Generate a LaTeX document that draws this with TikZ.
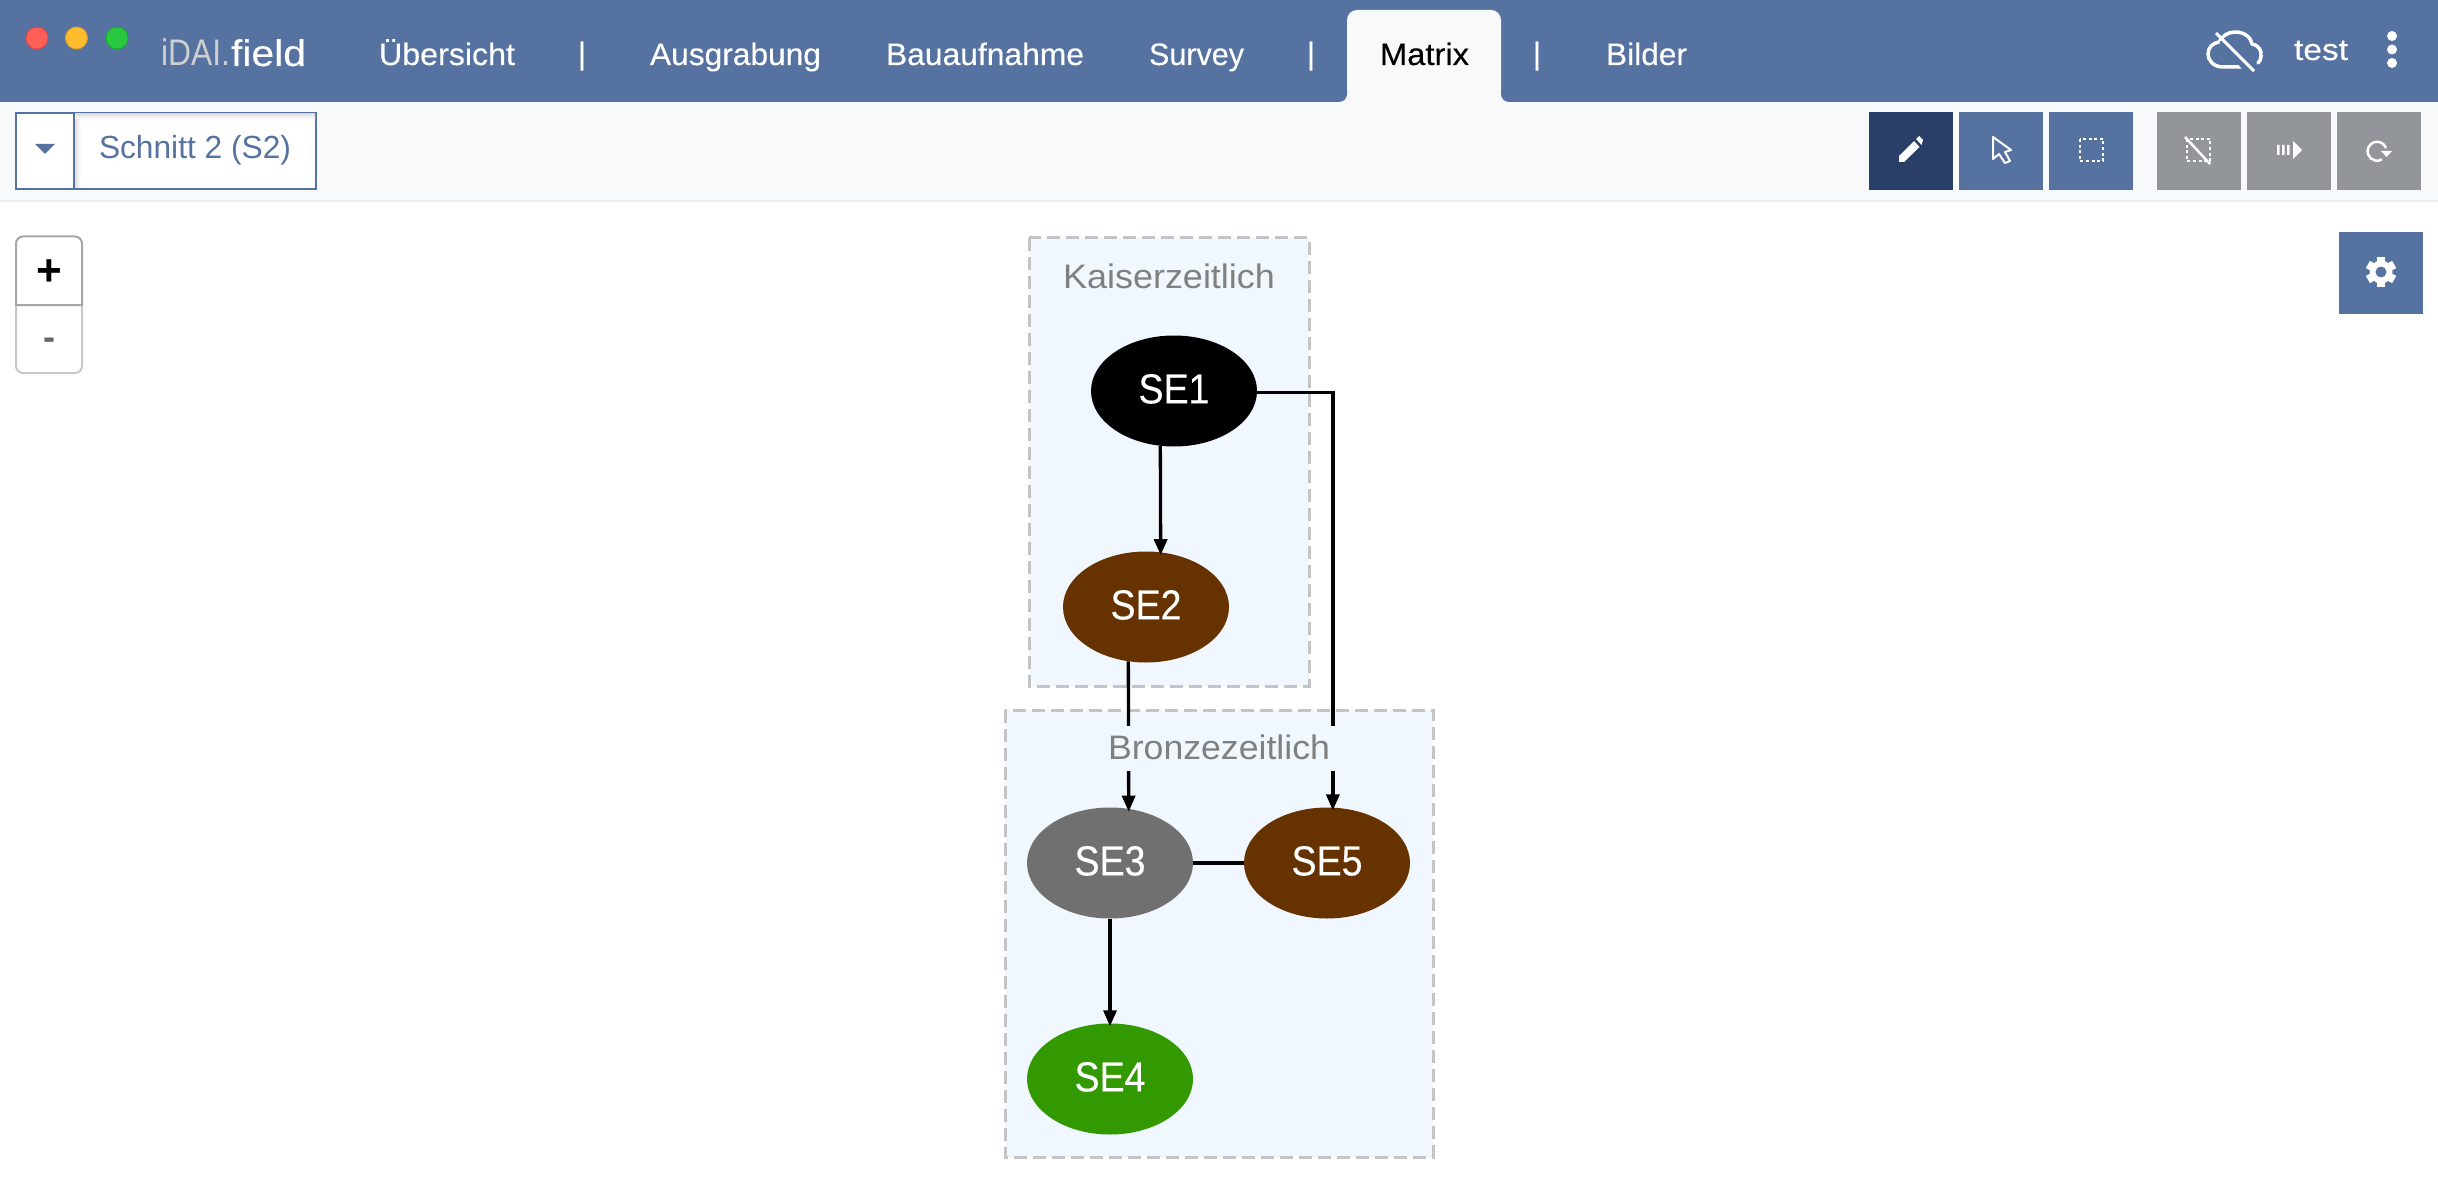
\documentclass[tikz,border=0pt]{standalone}
\usepackage{graphicx}
\usepackage{fontspec}
\setmainfont{Liberation Sans}
\newfontfamily\medfont[FakeBold=0.25]{Liberation Sans}
\usetikzlibrary{shapes.geometric,arrows.meta}
\definecolor{hdr}{HTML}{5572A1}
\definecolor{dark}{HTML}{293F67}
\definecolor{btngray}{HTML}{92969A}
\definecolor{barbg}{HTML}{F8F9FB}
\definecolor{barline}{HTML}{E9ECEF}
\definecolor{period}{HTML}{F0F7FE}
\definecolor{dashc}{HTML}{C2C4C6}
\definecolor{lab}{HTML}{808080}
\definecolor{brownse}{HTML}{663300}
\definecolor{grayse}{HTML}{707070}
\definecolor{greense}{HTML}{339900}
\definecolor{lightr}{HTML}{FF5F57}
\definecolor{lighty}{HTML}{FFBD2E}
\definecolor{lightg}{HTML}{28C940}
\definecolor{lightrd}{HTML}{E0443E}
\definecolor{lightyd}{HTML}{DEA123}
\definecolor{lightgd}{HTML}{1AAB29}
\definecolor{logogray}{HTML}{CFCFCF}
\definecolor{zoomtop}{HTML}{A6A6A6}
\definecolor{zoomlow}{HTML}{C8C8C8}
\newcommand{\fitw}[3]{\fontsize{#1}{#1}\selectfont\resizebox{#2pt}{\height}{#3}}
\newcommand{\medw}[3]{\fontsize{#1}{#1}\selectfont\medfont\resizebox{#2pt}{\height}{#3}}
\tikzset{
  x=1pt,y=-1pt,
  txt/.style={anchor=base west,inner sep=0pt,outer sep=0pt},
  unitnode/.style={ellipse,minimum width=166pt,minimum height=111pt,inner sep=0pt,text=white},
  periodbox/.style={fill=period,draw=dashc,line width=3pt,dash pattern=on 13pt off 6pt},
  edge/.style={line width=3.3pt,black},
  arrowedge/.style={edge,-{Triangle[length=16pt,width=13pt]},shorten >=-3pt},
  tool/.style={fill=hdr},
  toolgray/.style={fill=btngray},
  periodlabel/.style={anchor=base,inner xsep=7pt,inner ysep=0pt,text=lab,fill=period,text height=33pt,text depth=12pt},
  icon/.style={white,line width=2.5pt},
}
\begin{document}
\begin{tikzpicture}
\useasboundingbox (0,0) rectangle (2438,1198);
\fill[white] (0,0) rectangle (2438,1198);
% header and toolbar
\fill[hdr] (0,0) rectangle (2438,102);
\fill[barbg] (0,102) rectangle (2438,200);
\fill[barline] (0,200) rectangle (2438,202);
% traffic lights
\fill[lightr,draw=lightrd,line width=.8pt] (37,38) circle (11) ;
\fill[lighty,draw=lightyd,line width=.8pt] (76.5,38) circle (11);
\fill[lightg,draw=lightgd,line width=.8pt] (117,38) circle (11);
% nav texts
\node[txt,text=logogray] (logoa) at (161,66) {\fitw{37}{69}{iDAI.}};
\node[txt,text=white] (logob) at (231,66) {\medw{37}{75}{field}};
\node[txt,text=white] (nav1) at (379,65) {\medw{31}{136}{Übersicht}};
\node[txt,text=white] (sep1) at (578,64) {\fontsize{31}{31}\selectfont\medfont |};
\node[txt,text=white] (nav2) at (650,65) {\medw{31}{171}{Ausgrabung}};
\node[txt,text=white] (nav3) at (886,65) {\medw{31}{198}{Bauaufnahme}};
\node[txt,text=white] (nav4) at (1149,65) {\medw{31}{95}{Survey}};
\node[txt,text=white] (sep2) at (1307,64) {\fontsize{31}{31}\selectfont\medfont |};
% active tab with its flared foot
\fill[barbg,rounded corners=10pt] (1347,102) |- (1501,10) -- (1501,102) -- cycle;
\fill[barbg] (1347,80) rectangle (1501,102);
\fill[barbg] (1337,92) rectangle (1511,102);
\fill[hdr] (1330,90) -- (1347,90) -- (1347,94) arc[start angle=0,end angle=90,radius=8] -- (1330,102) -- cycle;
\fill[hdr] (1518,90) -- (1501,90) -- (1501,94) arc[start angle=180,end angle=90,radius=8] -- (1518,102) -- cycle;
\node[txt,text=black] (nav5) at (1380,65) {\medw{31}{89}{Matrix}};
\node[txt,text=white] (sep3) at (1533,64) {\fontsize{31}{31}\selectfont\medfont |};
\node[txt,text=white] (nav6) at (1606,65) {\medw{31}{81}{Bilder}};
% cloud off
\draw[white,line width=3.5pt,line cap=round,line join=round]
  (2243,67) -- (2223,67) .. controls (2213,67) and (2208,60) .. (2208,54)
  .. controls (2208,47) and (2213,43) .. (2219,42)
  .. controls (2222,36) and (2228,32) .. (2235,32)
  .. controls (2244,32) and (2251,37) .. (2252,44)
  .. controls (2258,45) and (2262,50) .. (2261,56)
  .. controls (2261,59) and (2260,61) .. (2258,63);
\draw[hdr,line width=7pt] (2222,40) -- (2250,73);
\draw[white,line width=3pt] (2216,33) -- (2254,71);
\node[txt,text=white] (user) at (2294,60) {\medw{30}{54}{test}};
\fill[white] (2392,36) circle (5) (2392,49.5) circle (5) (2392,63) circle (5);
% section select
\draw[hdr,line width=2pt,fill=white] (16,113) rectangle (316,189);
\draw[hdr,line width=2pt] (74,113) -- (74,189);
\fill[left color=black!12,right color=white] (75,114) rectangle (81,188);
\fill[top color=black!12,bottom color=white] (75,114) rectangle (315,119);
\fill[hdr] (35,144) -- (55,144) -- (45,154) -- cycle;
\node[txt,text=hdr] (section) at (99,159) {\fitw{32}{192}{Schnitt 2 (S2)}};
% tool buttons
\fill[dark] (1869,112) rectangle (1953,190);
\fill[tool] (1959,112) rectangle (2043,190);
\fill[tool] (2049,112) rectangle (2133,190);
\fill[toolgray] (2157,112) rectangle (2241,190);
\fill[toolgray] (2247,112) rectangle (2331,190);
\fill[toolgray] (2337,112) rectangle (2421,190);
\fill[tool] (2339,232) rectangle (2423,314);
% pencil
\fill[white] (1899,162) -- (1899,156) -- (1914,141) -- (1919.5,147) -- (1904,162) -- cycle;
\fill[white] (1916,139) -- (1919,136) -- (1923,140) -- (1921.5,145) -- cycle;
% cursor
\draw[icon,line width=2pt,line join=round] (1993,137) -- (1993,159) -- (1999,154) -- (2005,163) -- (2010,161) -- (2005,152) -- (2011,150) -- cycle;
% dotted rectangles
\draw[icon,dash pattern=on 3pt off 2.6pt] (2080,139) rectangle (2103,161);
\draw[icon,dash pattern=on 3pt off 2.6pt] (2187,139) rectangle (2210,161);
\draw[white,line width=2.5pt] (2185,137) -- (2210,164);
% play-through arrow
\fill[white] (2277,145) rectangle (2279.5,155) (2282,145) rectangle (2284.5,155) (2287,145) rectangle (2289.5,155);
\fill[white] (2293,141) -- (2302,150) -- (2293,159) -- cycle;
% rotate
\draw[icon] (2386,148) arc[start angle=-20,end angle=-300,radius=9.5];
\fill[white] (2381,151) -- (2392,151) -- (2386.5,157) -- cycle;
% gear
\fill[white] (2381,272) circle (11.5);
\foreach \a in {0,60,...,300}{\fill[white,rotate around={\a:(2381,272)}] (2377,257) rectangle (2385,287);}
\fill[hdr] (2381,272) circle (5.5);
% zoom control
\draw[fill=white,draw=zoomlow,line width=2pt,rounded corners=7pt] (16,305) -- (16,373) -- (82,373) -- (82,305);
\draw[draw=zoomtop,fill=white,line width=2pt] (16,305) [rounded corners=7pt] -- (16,236.5) -- (82,236.5) [sharp corners] -- (82,305) -- cycle;
\node[inner sep=0pt,font=\fontsize{44}{44}\selectfont\bfseries,text=black] (zoomin) at (49,273) {+};
\node[inner sep=0pt,font=\fontsize{36}{36}\selectfont\bfseries,text=black!60] (zoomout) at (49,344) {-};
% period boxes
\draw[periodbox] (1029,238) rectangle (1309,686);
\draw[periodbox] (1005,710) rectangle (1433,1157);
% units
\newcommand{\unit}[1]{\fontsize{42}{42}\selectfont\medfont\resizebox{71pt}{\height}{\raisebox{4.5pt}{#1}}}
\node[unitnode,fill=black] (se1) at (1174,391) {\unit{SE1}};
\node[unitnode,fill=brownse] (se2) at (1146,607) {\unit{SE2}};
\node[unitnode,fill=grayse] (se3) at (1110,863) {\unit{SE3}};
\node[unitnode,fill=brownse] (se5) at (1327,863) {\unit{SE5}};
\node[unitnode,fill=greense] (se4) at (1110,1079) {\unit{SE4}};
% connectors
\draw[arrowedge] (se1.-104.4) -- (se2.75.7);
\draw[arrowedge] (se1.-1.4) -| (se5.84.8);
\draw[arrowedge] (se2.-108.4) -- (se3.71.6);
\draw[edge] (se3.east) -- (se5.west);
\draw[arrowedge] (se3.south) -- (se4.north);
% period labels
\node[periodlabel] (kaiser) at (1169,288) {\fitw{34}{212}{Kaiserzeitlich}};
\node[periodlabel] (bronze) at (1219,759) {\fitw{34}{222}{Bronzezeitlich}};
\end{tikzpicture}
\end{document}
